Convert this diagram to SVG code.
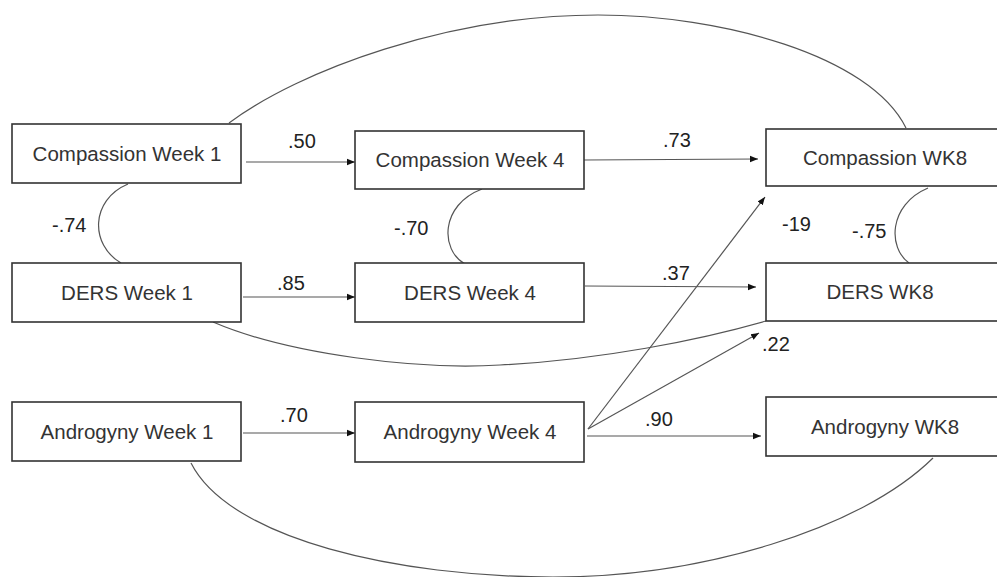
<svg xmlns="http://www.w3.org/2000/svg" width="997" height="577" viewBox="0 0 997 577">
<style>
.box rect{fill:#fff;stroke:#333;stroke-width:1.6}
.box text{font-family:"Liberation Sans",Arial,sans-serif;font-size:20.5px;fill:#333;text-anchor:middle}
.edge{fill:none;stroke:#555;stroke-width:1.2}
.arr{marker-end:url(#ah)}
.lbl{font-family:"Liberation Sans",Arial,sans-serif;font-size:20px;fill:#222}
</style>
<defs>
<marker id="ah" markerUnits="userSpaceOnUse" markerWidth="10" markerHeight="8" refX="8" refY="4" orient="auto">
<path d="M0,0.8 L8,4 L0,7.2 Z" fill="#111"/>
</marker>
</defs>
<rect width="997" height="577" fill="#fff"/>
<g id="connectors">
<path class="edge" d="M229,123 C300,70 450,15 598,15 C720,15 870,55 906,128"/>
<path class="edge" d="M128,184 C90,200 90,245 121,263"/>
<path class="edge" d="M482,189 C440,205 440,250 465,264"/>
<path class="edge" d="M928,188 C888,205 888,248 909,263"/>
<path class="edge" d="M213,322 C290,355 420,370 500,365 C600,360 700,340 766,321"/>
<path class="edge" d="M191,463 C230,540 400,577 553,577 C700,577 860,530 933,458"/>
<path class="edge arr" d="M246,162 L355,162"/>
<path class="edge arr" d="M584,160 L758,159"/>
<path class="edge arr" d="M243,297 L355,297"/>
<path class="edge arr" d="M585,286 L756,287"/>
<path class="edge arr" d="M243,433 L355,433"/>
<path class="edge arr" d="M587,436 L761,436"/>
<path class="edge arr" d="M588,429 L765,197"/>
<path class="edge arr" d="M588,429 L759,333"/>
</g>
<g id="labels">
<text class="lbl" x="288" y="148">.50</text>
<text class="lbl" x="663" y="147">.73</text>
<text class="lbl" x="52" y="232">-.74</text>
<text class="lbl" x="394" y="235">-.70</text>
<text class="lbl" x="782" y="231">-19</text>
<text class="lbl" x="852" y="238">-.75</text>
<text class="lbl" x="277" y="290">.85</text>
<text class="lbl" x="662" y="280">.37</text>
<text class="lbl" x="762" y="351">.22</text>
<text class="lbl" x="280" y="422">.70</text>
<text class="lbl" x="645" y="426">.90</text>
</g>
<g id="comp1" class="box"><rect x="12" y="124" width="229" height="59"/><text x="127" y="161">Compassion Week 1</text></g>
<g id="comp4" class="box"><rect x="355" y="131" width="229" height="58"/><text x="470" y="167">Compassion Week 4</text></g>
<g id="comp8" class="box"><rect x="766" y="129" width="240" height="57"/><text x="885" y="165">Compassion WK8</text></g>
<g id="ders1" class="box"><rect x="12" y="263" width="229" height="59"/><text x="127" y="300">DERS Week 1</text></g>
<g id="ders4" class="box"><rect x="355" y="263" width="229" height="59"/><text x="470" y="300">DERS Week 4</text></g>
<g id="ders8" class="box"><rect x="766" y="263" width="240" height="58"/><text x="880" y="299">DERS WK8</text></g>
<g id="andr1" class="box"><rect x="12" y="402" width="229" height="59"/><text x="127" y="439">Androgyny Week 1</text></g>
<g id="andr4" class="box"><rect x="355" y="402" width="229" height="60"/><text x="470" y="439">Androgyny Week 4</text></g>
<g id="andr8" class="box"><rect x="766" y="397" width="240" height="59"/><text x="885" y="434">Androgyny WK8</text></g>
</svg>
